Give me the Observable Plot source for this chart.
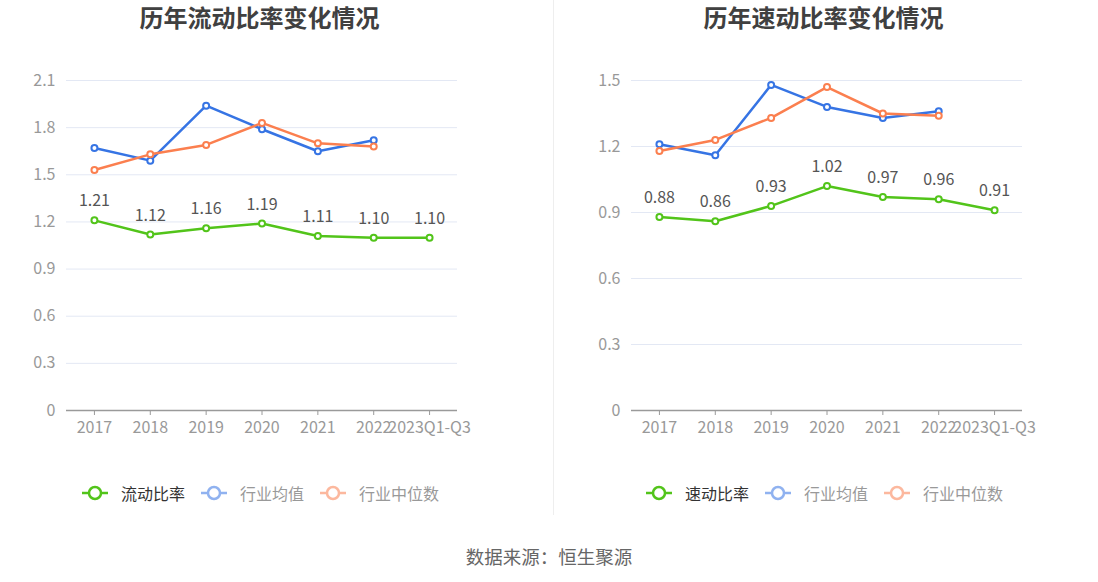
<!DOCTYPE html>
<html>
<head>
<meta charset="utf-8">
<script src="https://cdn.jsdelivr.net/npm/d3@7"></script>
<script src="https://cdn.jsdelivr.net/npm/@observablehq/plot@0.6"></script>
<style>
  html, body { margin: 0; padding: 0; background: #fff; }
  body { width: 1098px; height: 582px; position: relative; overflow: hidden;
         font-family: "Noto Sans CJK SC", "Noto Sans", sans-serif; }
  .panel { position: absolute; top: 0; width: 549px; height: 520px; }
  .title { position: absolute; top: 2px; width: 549px; text-align: center;
           font-size: 24px; font-weight: bold; color: #404040; line-height: 30px; }
  .chart { position: absolute; top: 40px; left: 0; }
  .legend { position: absolute; top: 481px; width: 549px; display: flex;
            justify-content: center; gap: 16px; font-size: 16px; line-height: 24px; }
  .item { display: flex; align-items: center; gap: 13px; }
  .divider { position: absolute; left: 553px; top: 0; width: 1px; height: 515px; background: #eeeeee; }
  .caption { position: absolute; top: 542px; left: 0; width: 1098px; text-align: center;
             font-size: 18.5px; color: #666; line-height: 28px; }
</style>
</head>
<body>
<div class="panel" id="p1" style="left:0"><div class="title" style="left:-15px">历年流动比率变化情况</div><div class="chart"></div><div class="legend" style="left:-14px"></div></div>
<div class="divider"></div>
<div class="panel" id="p2" style="left:549px"><div class="title" style="left:0">历年速动比率变化情况</div><div class="chart"></div><div class="legend" style="left:1px"></div></div>
<div class="caption">数据来源：恒生聚源</div>
<script>
const categories = ["2017", "2018", "2019", "2020", "2021", "2022", "2023Q1-Q3"];

const currentRatio = [1.21, 1.12, 1.16, 1.19, 1.11, 1.10, 1.10];
const currentIndustryMean = [1.67, 1.59, 1.94, 1.79, 1.65, 1.72, null];
const currentIndustryMedian = [1.53, 1.63, 1.69, 1.83, 1.70, 1.68, null];

const quickRatio = [0.88, 0.86, 0.93, 1.02, 0.97, 0.96, 0.91];
const quickIndustryMean = [1.21, 1.16, 1.48, 1.38, 1.33, 1.36, null];
const quickIndustryMedian = [1.18, 1.23, 1.33, 1.47, 1.35, 1.34, null];

const leftTicks = [0, 0.3, 0.6, 0.9, 1.2, 1.5, 1.8, 2.1];
const rightTicks = [0, 0.3, 0.6, 0.9, 1.2, 1.5];

const GREEN = "#52c41a", BLUE = "#3674e4", ORANGE = "#fb7f4f";

function toRows(vals) {
  return categories.map((c, i) => ({ cat: c, v: vals[i] })).filter(d => d.v != null);
}

function drawChart(panelId, main, mean, median, ticks, mainName, marginLeft, marginRight) {
  const mainRows = toRows(main), meanRows = toRows(mean), medRows = toRows(median);
  const fmt = d => d === 0 ? "0" : d.toFixed(1);
  const plot = Plot.plot({
    width: 549,
    height: 420,
    marginTop: 40,
    marginBottom: 50,
    marginLeft, marginRight,
    style: { fontFamily: "'Noto Sans CJK SC', 'Noto Sans', sans-serif", fontSize: "16px", color: "#999", background: "transparent" },
    x: { type: "point", domain: categories, padding: 0.5, round: false, label: null },
    y: { domain: [0, ticks[ticks.length - 1]], label: null },
    marks: [
      Plot.gridY(ticks, { stroke: "#e3e8f4", strokeOpacity: 1 }),
      Plot.axisY(ticks, { tickSize: 0, tickPadding: 11, tickFormat: fmt, fontSize: 16, fill: "#999", label: null }),
      Plot.ruleY([0], { stroke: "#9a9a9a", strokeWidth: 1.5 }),
      Plot.axisX({ tickSize: 5, tickPadding: 6, fontSize: 16, fill: "#999", stroke: "#9a9a9a", label: null }),
      Plot.lineY(mainRows, { x: "cat", y: "v", stroke: GREEN, strokeWidth: 2.5 }),
      Plot.lineY(meanRows, { x: "cat", y: "v", stroke: BLUE, strokeWidth: 2.5 }),
      Plot.lineY(medRows, { x: "cat", y: "v", stroke: ORANGE, strokeWidth: 2.5 }),
      Plot.dot(mainRows, { x: "cat", y: "v", r: 3, fill: "#fff", stroke: GREEN, strokeWidth: 2 }),
      Plot.dot(meanRows, { x: "cat", y: "v", r: 3, fill: "#fff", stroke: BLUE, strokeWidth: 2 }),
      Plot.dot(medRows, { x: "cat", y: "v", r: 3, fill: "#fff", stroke: ORANGE, strokeWidth: 2 }),
      Plot.text(mainRows, { x: "cat", y: "v", text: d => d.v.toFixed(2), dy: -19, fill: "#555", fontSize: 16 })
    ]
  });
  const panel = document.getElementById(panelId);
  panel.querySelector(".chart").appendChild(plot);

  const items = [
    { name: mainName, color: GREEN, text: "#333", op: 1 },
    { name: "行业均值", color: BLUE, text: "#999", op: 0.55 },
    { name: "行业中位数", color: ORANGE, text: "#999", op: 0.55 }
  ];
  const leg = panel.querySelector(".legend");
  for (const it of items) {
    const div = document.createElement("div");
    div.className = "item";
    div.innerHTML = `<svg width="26" height="16" style="opacity:${it.op}"><line x1="0" x2="26" y1="8" y2="8" stroke="${it.color}" stroke-width="2.5"/><circle cx="13" cy="8" r="6" fill="#fff" stroke="${it.color}" stroke-width="2.5"/></svg><span style="color:${it.text}">${it.name}</span>`;
    leg.appendChild(div);
  }
}

drawChart("p1", currentRatio, currentIndustryMean, currentIndustryMedian, leftTicks, "流动比率", 66, 92);
drawChart("p2", quickRatio, quickIndustryMean, quickIndustryMedian, rightTicks, "速动比率", 82, 76);
</script>
</body>
</html>
